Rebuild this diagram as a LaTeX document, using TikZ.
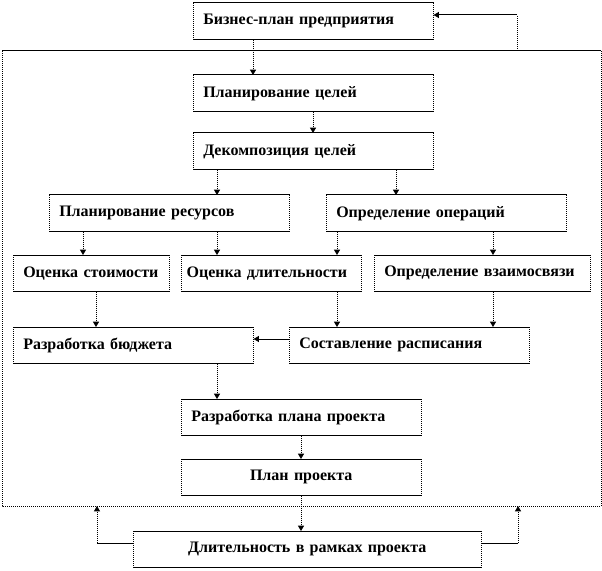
\documentclass[tikz,border=0pt]{standalone}
\usepackage{fontspec}
\setmainfont{Liberation Serif}
\usetikzlibrary{arrows.meta}

\tikzset{
  hline/.style={line width=0.75pt, black},
  vline/.style={line width=0.75pt, black, dash pattern=on 0.75pt off 0.75pt},
  blk/.style={anchor=north west, minimum height=27pt, inner xsep=7.5pt, inner ysep=0pt,
    text width=#1, align=left, font=\fontsize{12}{14}\selectfont\bfseries,
    append after command={
      (\tikzlastnode.north west) edge[hline] (\tikzlastnode.north east)
      (\tikzlastnode.south west) edge[hline] (\tikzlastnode.south east)
      (\tikzlastnode.north west) edge[vline] (\tikzlastnode.south west)
      (\tikzlastnode.north east) edge[vline] (\tikzlastnode.south east)}},
  vcon/.style={vline, ->},
  hcon/.style={hline, ->}
}

\begin{document}
\begin{tikzpicture}[x=0.75pt, y=-0.75pt, >={Triangle[width=4.5pt,length=4pt]}]
    \useasboundingbox (0,0) rectangle (602,570);

    % outer frame
    \draw[hline] (2,51) -- (601,51);
    \draw[vline] (2,51) -- (2,506) -- (601,506) -- (601,51);

    \node[blk=165pt] (biz) at (193,3) {Бизнес-план предприятия};
    \node[blk=165pt] (goals) at (193,75) {Планирование целей};
    \node[blk=165pt] (decomp) at (193,133) {Декомпозиция целей};
    \node[blk=165pt] (res) at (49,195) {Планирование ресурсов};
    \node[blk=165pt] (ops) at (326,195) {Определение операций};
    \node[blk=102pt] (cost) at (13,255) {Оценка стоимости};
    \node[blk=127pt, inner xsep=4pt] (dur) at (181,255) {Оценка длительности};
    \node[blk=147pt] (rel) at (374,255) {Определение взаимосвязи};
    \node[blk=165pt] (budget) at (13,327) {Разработка бюджета};
    \node[blk=165pt] (sched) at (289,327) {Составление расписания};
    \node[blk=165pt] (pdev) at (181,399) {Разработка плана проекта};
    \node[blk=165pt, align=center] (plan) at (181,459) {План проекта};
    \node[blk=246pt, align=center] (durp) at (133,531) {Длительность в рамках проекта};

    \foreach \x/\a/\b in {253/biz/goals, 313/goals/decomp, 217/decomp/res,
        396/decomp/ops, 83/res/cost, 217/res/dur, 337/ops/dur, 493/ops/rel,
        96/cost/budget, 337/dur/sched, 493/rel/sched, 217/budget/pdev,
        301/pdev/plan, 301/plan/durp}
        \draw[vcon] (\x,0 |- \a.south) -- (\x,0 |- \b.north);

    \draw[hcon] (sched.west |- 0,339) -- (budget.east |- 0,339);

    % feedback to the business plan
    \coordinate (ftop) at (517,51);
    \coordinate (ktop) at (517,15);
    \draw[vline] (ftop) -- (ktop);
    \draw[hcon] (ktop) -- (biz.east |- ktop);

    % feedback from the bottom box
    \coordinate (fleft) at (97,506);
    \coordinate (fright) at (518,506);
    \coordinate (kleft) at (97,543);
    \coordinate (kright) at (518,543);
    \draw[hline] (durp.west |- kleft) -- (kleft);
    \draw[vcon] (kleft) -- (fleft);
    \draw[hline] (durp.east |- kright) -- (kright);
    \draw[vcon] (kright) -- (fright);
\end{tikzpicture}
\end{document}
